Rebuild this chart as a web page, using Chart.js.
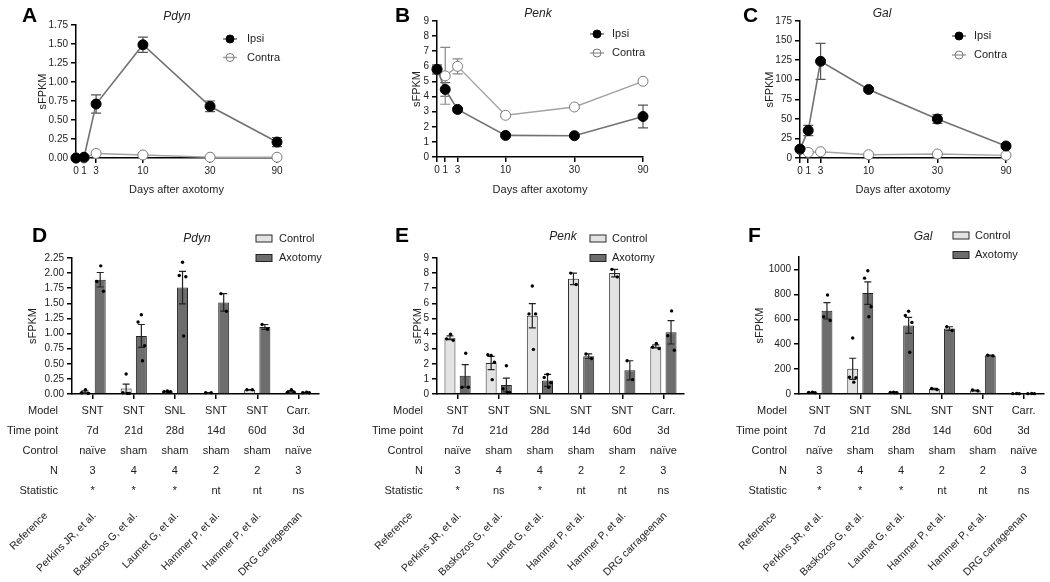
<!DOCTYPE html>
<html>
<head>
<meta charset="utf-8">
<script src="https://cdn.jsdelivr.net/npm/chart.js@4.4.1/dist/chart.umd.min.js"></script>
<style>
  body { margin: 0; background: #fff; width: 1050px; height: 582px; position: relative; overflow: hidden; }
  canvas { position: absolute; }
</style>
</head>
<body>
<canvas id="chartA" width="350" height="200" style="left:0;top:0"></canvas>
<canvas id="chartB" width="350" height="200" style="left:350px;top:0"></canvas>
<canvas id="chartC" width="350" height="200" style="left:700px;top:0"></canvas>
<canvas id="chartD" width="350" height="357" style="left:0;top:225px"></canvas>
<canvas id="chartE" width="350" height="357" style="left:350px;top:225px"></canvas>
<canvas id="chartF" width="350" height="357" style="left:700px;top:225px"></canvas>
<script>
// ---- time course data (A-C) ----
const days = [0, 1, 3, 10, 30, 90];

const pdynIpsi = [0, 0.01, 0.71, 1.49, 0.68, 0.21];
const pdynIpsiSem = [0, 0.01, 0.12, 0.10, 0.07, 0.06];
const pdynContra = [0, 0, 0.06, 0.04, 0.01, 0.01];
const pdynContraSem = [0, 0, 0.01, 0.01, 0.005, 0.005];

const penkIpsi = [5.8, 4.47, 3.15, 1.43, 1.41, 2.68];
const penkIpsiSem = [0.3, 0.45, 0.1, 0.08, 0.08, 0.75];
const penkContra = [5.8, 5.37, 6.0, 2.76, 3.31, 5.01];
const penkContraSem = [0.3, 1.88, 0.5, 0.1, 0.1, 0.1];

const galIpsi = [11.4, 35.2, 123.5, 87.5, 49.8, 15.3];
const galIpsiSem = [3, 6.5, 23, 2, 5.5, 2];
const galContra = [11, 7.2, 8.0, 4.2, 5.1, 3.4];
const galContraSem = [1, 1, 1, 0.5, 0.5, 0.5];

// ---- study comparison data (D-F) ----
const references = ['Perkins JR, et al.', 'Baskozos G, et al.', 'Laumet G, et al.', 'Hammer P, et al.', 'Hammer P, et al.', 'DRG carrageenan'];
const models = ['SNT', 'SNT', 'SNL', 'SNT', 'SNT', 'Carr.'];
const timePoints = ['7d', '21d', '28d', '14d', '60d', '3d'];
const controls = ['naïve', 'sham', 'sham', 'sham', 'sham', 'naïve'];
const nAnimals = [3, 4, 4, 2, 2, 3];
const statPdyn = ['*', '*', '*', 'nt', 'nt', 'ns'];
const statPenk = ['*', 'ns', '*', 'nt', 'nt', 'ns'];
const statGal = ['*', '*', '*', 'nt', 'nt', 'ns'];

const pdynCtrl = [0.033, 0.09, 0.04, 0.02, 0.07, 0.043];
const pdynCtrlSem = [0.02, 0.075, 0.005, 0.003, 0.003, 0.013];
const pdynCtrlDots = [[0.07, 0.02, 0.01], [0.33, 0.02, 0.01, 0.01], [0.05, 0.04, 0.04, 0.03], [0.02, 0.02], [0.07, 0.07], [0.07, 0.03, 0.03]];
const pdynAxo = [1.89, 0.96, 1.76, 1.515, 1.11, 0.023];
const pdynAxoSem = [0.12, 0.19, 0.27, 0.145, 0.04, 0.003];
const pdynAxoDots = [[2.12, 1.86, 1.70], [1.31, 1.19, 0.80, 0.55], [2.18, 1.96, 1.94, 0.96], [1.66, 1.37], [1.15, 1.07], [0.03, 0.02, 0.02]];

const penkCtrl = [3.72, 2.05, 5.18, 7.62, 8.0, 3.15];
const penkCtrlSem = [0.12, 0.44, 0.8, 0.38, 0.25, 0.1];
const penkCtrlDots = [[3.95, 3.65, 3.55], [2.55, 2.6, 2.1, 0.95], [7.15, 5.3, 5.3, 2.95], [8.0, 7.25], [8.25, 7.75], [3.35, 3.1, 3.0]];
const penkAxo = [1.2, 0.6, 0.9, 2.5, 1.57, 4.08];
const penkAxoSem = [0.75, 0.45, 0.4, 0.15, 0.63, 0.77];
const penkAxoDots = [[2.7, 0.45, 0.45], [1.87, 0.35, 0.1, 0.1], [1.3, 1.1, 0.75, 0.45], [2.65, 2.35], [2.2, 0.95], [5.5, 3.85, 2.9]];

const galCtrl = [12, 202, 12, 40, 28, 3];
const galCtrlSem = [2, 85, 2, 5, 4, 0.5];
const galCtrlDots = [[14, 12, 10], [450, 135, 130, 95], [15, 12, 10, 10], [45, 35], [32, 25], [4, 3, 3]];
const galAxo = [668, 810, 551, 525, 309, 3];
const galAxoSem = [66, 90, 65, 15, 3, 0.5];
const galAxoDots = [[795, 620, 590], [990, 930, 700, 620], [665, 630, 575, 335], [540, 510], [312, 306], [4, 3, 3]];

const FONT = "'Liberation Sans', Arial, Helvetica, sans-serif";
Chart.defaults.font.family = FONT;
Chart.defaults.color = '#222';
Chart.defaults.animation = false;
Chart.defaults.plugins.legend.display = false;
Chart.defaults.plugins.tooltip.enabled = false;

// piecewise linear axis like the GraphPad day axis
class SegmentedScale extends Chart.LinearScale {
  static id = 'segmented';
  toFraction(v) {
    const k = this.options.knots;
    if (v <= k[0][0]) return k[0][1];
    for (let i = 1; i < k.length; i++) {
      if (v <= k[i][0]) {
        const a = k[i - 1], b = k[i];
        return a[1] + (v - a[0]) / (b[0] - a[0]) * (b[1] - a[1]);
      }
    }
    return k[k.length - 1][1];
  }
  getPixelForValue(v) {
    return v === null || v === undefined ? NaN : this.getPixelForDecimal(this.toFraction(v));
  }
  getValueForPixel(p) {
    const f = this.getDecimalForPixel(p), k = this.options.knots;
    for (let i = 1; i < k.length; i++) {
      if (f <= k[i][1]) {
        const a = k[i - 1], b = k[i];
        return a[0] + (f - a[1]) / (b[1] - a[1]) * (b[0] - a[0]);
      }
    }
    return k[k.length - 1][0];
  }
}
Chart.register(SegmentedScale);

const spread = { 1: [0], 2: [-0.25, 0.25], 3: [0.05, -0.3, 0.3], 4: [0, -0.3, 0.3, 0.1] };

function drawErrors(chart, cap) {
  const ctx = chart.ctx, yScale = chart.scales.y;
  chart.data.datasets.forEach((ds, i) => {
    if (!ds.sem) return;
    const meta = chart.getDatasetMeta(i);
    ctx.save();
    ctx.strokeStyle = ds.errorColor || '#222';
    ctx.lineWidth = 1.2;
    meta.data.forEach((el, j) => {
      const raw = ds.data[j];
      const v = typeof raw === 'object' ? raw.y : raw;
      const e = ds.sem[j];
      if (!e) return;
      const top = yScale.getPixelForValue(v + e);
      const bot = yScale.getPixelForValue(Math.max(0, v - e));
      ctx.beginPath();
      ctx.moveTo(el.x, top); ctx.lineTo(el.x, bot);
      ctx.moveTo(el.x - cap, top); ctx.lineTo(el.x + cap, top);
      ctx.moveTo(el.x - cap, bot); ctx.lineTo(el.x + cap, bot);
      ctx.stroke();
    });
    ctx.restore();
  });
}

function drawDots(chart) {
  const ctx = chart.ctx, yScale = chart.scales.y;
  chart.data.datasets.forEach((ds, i) => {
    if (!ds.dots) return;
    chart.getDatasetMeta(i).data.forEach((bar, j) => {
      const pts = ds.dots[j];
      const offs = spread[pts.length] || [0];
      pts.forEach((v, k) => {
        ctx.beginPath();
        ctx.arc(bar.x + offs[k] * bar.width, yScale.getPixelForValue(v), 1.7, 0, Math.PI * 2);
        ctx.fillStyle = '#000';
        ctx.fill();
      });
    });
  });
}

Chart.register({
  id: 'errorBars',
  beforeDatasetsDraw(chart) { if (chart.config.type === 'line') drawErrors(chart, 5); },
  afterDatasetsDraw(chart) {
    if (chart.config.type === 'bar') { drawErrors(chart, 3.5); drawDots(chart); }
  }
});

function decor(d) {
  return {
    id: 'decor',
    afterDraw(chart) {
      const ctx = chart.ctx;
      ctx.save();
      ctx.fillStyle = '#000';
      ctx.font = 'bold 21px ' + FONT;
      ctx.textAlign = 'left';
      ctx.textBaseline = 'alphabetic';
      ctx.fillText(d.letter, d.letterX, d.letterY);
      ctx.fillStyle = '#222';
      ctx.font = 'italic 12px ' + FONT;
      ctx.textAlign = 'center';
      ctx.textBaseline = 'middle';
      ctx.fillText(d.title, d.titleX, d.titleY);
      ctx.font = '11px ' + FONT;
      ctx.textAlign = 'left';
      chart.data.datasets.forEach((ds, i) => {
        const y = d.legendY + i * d.legendDy, x = d.legendX;
        if (d.legendType === 'line') {
          ctx.strokeStyle = ds.borderColor; ctx.lineWidth = 1.5;
          ctx.beginPath(); ctx.moveTo(x, y); ctx.lineTo(x + 14, y); ctx.stroke();
          ctx.beginPath(); ctx.arc(x + 7, y, 4, 0, Math.PI * 2);
          if (ds.pointBackgroundColor !== '#fff') { ctx.fillStyle = ds.pointBackgroundColor; ctx.fill(); }
          ctx.strokeStyle = ds.pointBorderColor; ctx.lineWidth = 1; ctx.stroke();
        } else {
          ctx.fillStyle = ds.backgroundColor; ctx.fillRect(x, y - 3.5, 16, 7);
          ctx.strokeStyle = ds.borderColor; ctx.lineWidth = 1; ctx.strokeRect(x, y - 3.5, 16, 7);
        }
        ctx.fillStyle = '#222';
        ctx.fillText(ds.label, d.legendTextX, y);
      });
      ctx.restore();
    }
  };
}

function table(t) {
  return {
    id: 'table',
    afterDraw(chart) {
      const ctx = chart.ctx, xs = chart.scales.x;
      ctx.save();
      ctx.font = '11px ' + FONT;
      ctx.fillStyle = '#222';
      ctx.textBaseline = 'middle';
      t.rows.forEach((row, r) => {
        const y = t.rowY[r];
        ctx.textAlign = 'right';
        ctx.fillText(row[0], t.labelRight, y);
        ctx.textAlign = 'center';
        row[1].forEach((v, i) => ctx.fillText(String(v), xs.getPixelForTick(i), y));
      });
      ctx.textAlign = 'right';
      ctx.font = '10.5px ' + FONT;
      const items = [[t.labelRight - 12, 'Reference']].concat(references.map((r, i) => [xs.getPixelForTick(i) + 2, r]));
      items.forEach(([px, txt]) => {
        ctx.save();
        ctx.translate(px, t.refY);
        ctx.rotate(-Math.PI / 4);
        ctx.fillText(txt, 0, 0);
        ctx.restore();
      });
      ctx.restore();
    }
  };
}

const axisGrid = { drawOnChartArea: false, drawTicks: true, tickLength: 5, color: '#000', lineWidth: 1.5 };
const axisBorder = { color: '#000', width: 1.5 };

function lineChart(id, ipsi, ipsiSem, contra, contraSem, y, layout, d) {
  return new Chart(document.getElementById(id), {
    type: 'line',
    data: {
      datasets: [{
        label: 'Ipsi',
        data: days.map((v, i) => ({ x: v, y: ipsi[i] })),
        sem: ipsiSem, errorColor: '#555',
        borderColor: '#727272', borderWidth: 1.6,
        pointRadius: 5, pointBackgroundColor: '#000', pointBorderColor: '#000', pointBorderWidth: 1,
        clip: false
      }, {
        label: 'Contra',
        data: days.map((v, i) => ({ x: v, y: contra[i] })),
        sem: contraSem, errorColor: '#888',
        borderColor: '#a3a3a3', borderWidth: 1.4,
        pointRadius: 5, pointBackgroundColor: '#fff', pointBorderColor: '#7a7a7a', pointBorderWidth: 1,
        clip: false
      }]
    },
    options: {
      responsive: false,
      events: [],
      layout: { padding: { top: layout.top, right: layout.right, left: 0, bottom: 0 } },
      scales: {
        x: {
          type: 'segmented', min: 0, max: 90,
          knots: [[0, 0], [1, 0.04], [3, 0.1], [10, 0.333], [30, 0.667], [90, 1]],
          afterBuildTicks: s => { s.ticks = days.map(v => ({ value: v })); },
          afterFit: s => { s.height = layout.xh; },
          grid: axisGrid, border: axisBorder,
          ticks: { autoSkip: false, maxRotation: 0, padding: 2, font: { size: 10 } },
          title: { display: true, text: 'Days after axotomy', font: { size: 11 }, padding: { top: 0, bottom: 3 } }
        },
        y: {
          min: 0, max: y.max,
          ticks: { stepSize: y.step, padding: 3, font: { size: 10 }, callback: y.fmt },
          afterFit: s => { s.width = layout.yw; },
          grid: axisGrid, border: axisBorder,
          title: { display: true, text: 'sFPKM', font: { size: 11 }, padding: { top: layout.tp, bottom: 0 } }
        }
      }
    },
    plugins: [decor(d)]
  });
}

function barChart(id, ctrl, ctrlSem, ctrlDots, axo, axoSem, axoDots, stats, y, layout, d) {
  return new Chart(document.getElementById(id), {
    type: 'bar',
    data: {
      labels: references,
      datasets: [{
        label: 'Control', data: ctrl, sem: ctrlSem, dots: ctrlDots,
        backgroundColor: '#e3e3e3', borderColor: '#2b2b2b', borderWidth: 1,
        categoryPercentage: 0.74, barPercentage: 0.72
      }, {
        label: 'Axotomy', data: axo, sem: axoSem, dots: axoDots,
        backgroundColor: '#6d6d6d', borderColor: '#222', borderWidth: 1,
        categoryPercentage: 0.74, barPercentage: 0.72
      }]
    },
    options: {
      responsive: false,
      events: [],
      layout: { padding: { top: layout.top, right: layout.right, left: 0, bottom: 0 } },
      scales: {
        x: {
          afterFit: s => { s.height = 357 - 169; },
          grid: Object.assign({ offset: false }, axisGrid), border: axisBorder,
          ticks: { display: false }
        },
        y: {
          min: 0, max: y.max,
          ticks: { stepSize: y.step, padding: 3, font: { size: 10 }, callback: y.fmt },
          afterBuildTicks: s => { s.ticks = s.ticks.filter(t => t.value <= y.lastTick + 1e-9); },
          afterFit: s => { s.width = layout.yw; },
          grid: axisGrid, border: axisBorder,
          title: { display: true, text: 'sFPKM', font: { size: 11 }, padding: { top: layout.tp, bottom: 0 } }
        }
      }
    },
    plugins: [decor(d), table({
      labelRight: layout.labelRight,
      rowY: [186, 206, 226, 245.5, 266],
      refY: 289,
      rows: [['Model', models], ['Time point', timePoints], ['Control', controls], ['N', nAnimals], ['Statistic', stats]]
    })]
  });
}

const two = v => v.toFixed(2);
const int = v => String(v);

lineChart('chartA', pdynIpsi, pdynIpsiSem, pdynContra, pdynContraSem,
  { max: 1.75, step: 0.25, fmt: two },
  { top: 25, right: 73, yw: 76, xh: 42, tp: 36 },
  { letter: 'A', letterX: 22, letterY: 22, title: 'Pdyn', titleX: 177, titleY: 17,
    legendType: 'line', legendX: 223, legendY: 39, legendDy: 18.5, legendTextX: 247 });

lineChart('chartB', penkIpsi, penkIpsiSem, penkContra, penkContraSem,
  { max: 9, step: 1, fmt: int },
  { top: 21, right: 57, yw: 87, xh: 43, tp: 60 },
  { letter: 'B', letterX: 45, letterY: 22, title: 'Penk', titleX: 188, titleY: 14,
    legendType: 'line', legendX: 240, legendY: 34, legendDy: 19, legendTextX: 262 });

lineChart('chartC', galIpsi, galIpsiSem, galContra, galContraSem,
  { max: 175, step: 25, fmt: int },
  { top: 21, right: 44, yw: 100, xh: 42, tp: 63 },
  { letter: 'C', letterX: 43, letterY: 22, title: 'Gal', titleX: 182, titleY: 14,
    legendType: 'line', legendX: 252, legendY: 36, legendDy: 19, legendTextX: 274 });

barChart('chartD', pdynCtrl, pdynCtrlSem, pdynCtrlDots, pdynAxo, pdynAxoSem, pdynAxoDots, statPdyn,
  { max: 2.25, step: 0.25, lastTick: 2.25, fmt: two },
  { top: 33, right: 31, yw: 72, tp: 26, labelRight: 58 },
  { letter: 'D', letterX: 32, letterY: 17, title: 'Pdyn', titleX: 197, titleY: 13.5,
    legendType: 'box', legendX: 256, legendY: 13.5, legendDy: 19.5, legendTextX: 279 });

barChart('chartE', penkCtrl, penkCtrlSem, penkCtrlDots, penkAxo, penkAxoSem, penkAxoDots, statPenk,
  { max: 9, step: 1, lastTick: 9, fmt: int },
  { top: 33, right: 16, yw: 87, tp: 61, labelRight: 73 },
  { letter: 'E', letterX: 45, letterY: 17, title: 'Penk', titleX: 213, titleY: 12,
    legendType: 'box', legendX: 240, legendY: 13.5, legendDy: 19.5, legendTextX: 262 });

barChart('chartF', galCtrl, galCtrlSem, galCtrlDots, galAxo, galAxoSem, galAxoDots, statGal,
  { max: 1100, step: 200, lastTick: 1000, fmt: int },
  { top: 32, right: 6, yw: 99, tp: 53, labelRight: 87 },
  { letter: 'F', letterX: 48, letterY: 17, title: 'Gal', titleX: 223, titleY: 11.5,
    legendType: 'box', legendX: 253, legendY: 10.5, legendDy: 19.5, legendTextX: 275 });
</script>
</body>
</html>
